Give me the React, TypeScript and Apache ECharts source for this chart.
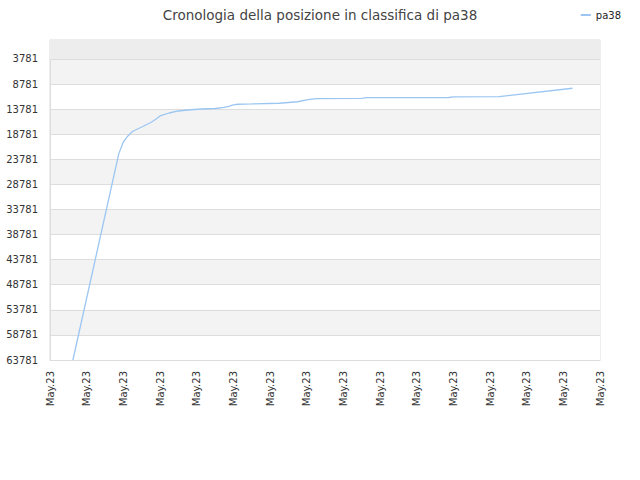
import { useEffect, useRef } from "react";
import * as echarts from "echarts";

const TITLE = "Cronologia della posizione in classifica di pa38";
const SERIES_NAME = "pa38";

// x ticks, one label every 8 steps
const xTickLabels = [
  "May.23", "May.23", "May.23", "May.23", "May.23", "May.23", "May.23", "May.23",
  "May.23", "May.23", "May.23", "May.23", "May.23", "May.23", "May.23", "May.23",
];
const X_STEP = 8;

// rank ticks (the axis is inverted, best rank at the top)
const rankTicks = [3781, 8781, 13781, 18781, 23781, 28781, 33781, 38781, 43781, 48781, 53781, 58781, 63781];
const RANK_TOP = 1;
const RANK_BOTTOM = 63781;

// observations: step on the x axis and position in the ranking
const sampleStep = [5, 15, 16, 17, 18, 20, 22, 23, 24, 26, 28, 30, 33, 36, 38, 39, 40, 41, 44, 50, 54, 56, 58, 68, 69, 87, 88, 98, 114];
const sampleRank = [
  63781, 22700, 20330, 19130, 18230, 17340, 16440, 15840, 15140, 14550, 14150, 13950, 13750, 13650,
  13450, 13210, 12950, 12810, 12750, 12610, 12310, 11950, 11700, 11650, 11500, 11460, 11340, 11300, 9620,
];

export default function App() {
  const ref = useRef<HTMLDivElement | null>(null);

  useEffect(() => {
    const el = ref.current;

    if (!el) {
      return;
    }

    const chart = echarts.init(el, null, { renderer: "svg" });
    const points = sampleStep.map((step, i) => [step, sampleRank[i]]);
    const font = "DejaVu Sans";

    chart.setOption({
      animation: false,
      backgroundColor: "#ffffff",
      title: {
        text: TITLE,
        left: "center",
        top: 3,
        textStyle: { fontFamily: font, fontSize: 13.5, fontWeight: "normal", color: "#444444" },
      },
      legend: {
        data: [SERIES_NAME],
        right: 14,
        top: 5,
        itemWidth: 10,
        itemHeight: 2,
        itemGap: 6,
        textStyle: { fontFamily: font, fontSize: 10, color: "#222222" },
      },
      grid: {
        left: 50,
        right: 40,
        top: 40,
        bottom: 120,
        show: true,
        borderColor: "#dddddd",
        borderWidth: 1,
        backgroundColor: "transparent",
        outerBoundsMode: "none",
      },
      xAxis: {
        type: "value",
        min: 0,
        max: (xTickLabels.length - 1) * X_STEP,
        interval: X_STEP,
        axisLine: { show: true, lineStyle: { color: "#dddddd" } },
        axisTick: { show: false },
        splitLine: { show: false },
        axisLabel: {
          rotate: 90,
          margin: 11,
          fontFamily: font,
          fontSize: 10,
          color: "#333333",
          formatter: (v: number) => xTickLabels[Math.round(v / X_STEP)] ?? "",
        },
      },
      yAxis: {
        type: "value",
        inverse: true,
        min: RANK_TOP,
        max: RANK_BOTTOM,
        axisLine: { show: true, lineStyle: { color: "#dddddd" } },
        axisTick: { show: false, customValues: rankTicks },
        axisLabel: {
          customValues: rankTicks,
          margin: 12,
          fontFamily: font,
          fontSize: 10,
          color: "#333333",
          formatter: (v: number) => String(v),
        },
        splitLine: { show: true, lineStyle: { color: "#dddddd" } },
        splitArea: { show: true, areaStyle: { color: ["#f3f3f3", "#ffffff"] } },
      },
      series: [
        {
          name: SERIES_NAME,
          type: "line",
          data: points,
          symbol: "none",
          lineStyle: { color: "#9cc6f2", width: 1.3 },
          itemStyle: { color: "#9cc6f2" },
          markArea: {
            silent: true,
            itemStyle: { color: "#ededed" },
            data: [[{ yAxis: RANK_TOP }, { yAxis: rankTicks[0] }]],
          },
        },
      ],
    });

    return () => {
      chart.dispose();
    };
  }, []);

  return (
    <div
      ref={ref}
      style={{ position: "absolute", left: 0, top: 0, width: 640, height: 480 }}
    />
  );
}
